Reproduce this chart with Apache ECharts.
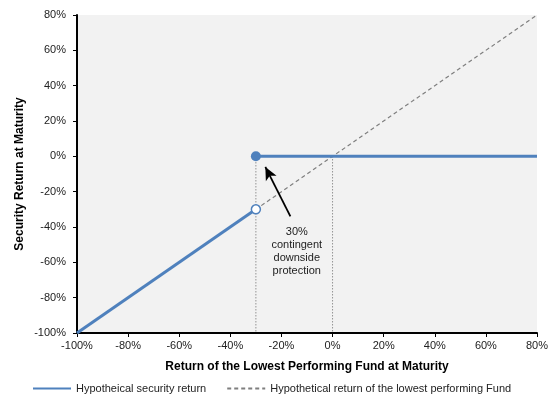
<!DOCTYPE html>
<html>
<head>
<meta charset="utf-8">
<script src="https://cdn.jsdelivr.net/npm/echarts@6/dist/echarts.min.js"></script>
<style>
  html, body { margin: 0; padding: 0; background: #fff; }
  #chart { width: 557px; height: 405px; }
</style>
</head>
<body>
<div id="chart"></div>
<script>
// axis range (in %)
var axisMin = -100;
var axisMax = 80;
var axisStep = 20;

// security return: follows the fund down to the barrier, then flat at 0
var securityBelow = [[-100, -100], [-30, -30]];
var securityAbove = [[-30, 0], [80, 0]];
// hypothetical fund return (1:1)
var fundLine = [[-100, -100], [80, 80]];
// dotted guide lines
var guideBarrier = [[-30, 0], [-30, -100]];
var guideZero = [[0, 0], [0, -100]];
// markers
var openPoint = [[-30, -30]];
var filledPoint = [[-30, 0]];
// annotation
var arrowFrom = [-16.5, -34];
var arrowTo = [-26.3, -6];
var noteAt = [-14, -54];
var noteText = '30%\ncontingent\ndownside\nprotection';

var blue = '#4f81bd';
var chart = echarts.init(document.getElementById('chart'));

var option = {
    animation: false,
    textStyle: { fontFamily: 'Liberation Sans, Arial, sans-serif' },
    grid: { left: 77, right: 20, top: 15, bottom: 72, backgroundColor: '#f2f2f2', show: true, borderWidth: 0 },
    xAxis: {
        type: 'value', min: axisMin, max: axisMax, interval: axisStep,
        name: 'Return of the Lowest Performing Fund at Maturity',
        nameLocation: 'middle', nameGap: 28,
        nameTextStyle: { fontWeight: 'bold', fontSize: 12, color: '#000' },
        axisLine: { onZero: false, lineStyle: { color: '#000', width: 2 } },
        axisTick: { show: true, length: 4, lineStyle: { color: '#000' } },
        axisLabel: { formatter: '{value}%', color: '#222', fontSize: 11, margin: 7 },
        splitLine: { show: false }
    },
    yAxis: {
        type: 'value', min: axisMin, max: axisMax, interval: axisStep,
        name: 'Security Return at Maturity',
        nameLocation: 'middle', nameGap: 51, nameMoveOverlap: false,
        nameTextStyle: { fontWeight: 'bold', fontSize: 12, color: '#000' },
        axisLine: { onZero: false, lineStyle: { color: '#000', width: 2 } },
        axisTick: { show: true, length: 4, lineStyle: { color: '#000' } },
        axisLabel: { formatter: '{value}%', color: '#222', fontSize: 11, margin: 11 },
        splitLine: { show: false }
    },
    legend: {
        left: 27, top: 378, itemWidth: 38, itemHeight: 10, itemGap: 20,
        itemStyle: { opacity: 0 },
        textStyle: { fontSize: 11, color: '#222' },
        data: ['Hypotheical security return', 'Hypothetical return of the lowest performing Fund']
    },
    series: [
        {
            name: 'Hypothetical return of the lowest performing Fund', type: 'line',
            data: fundLine, symbol: 'none', z: 1,
            lineStyle: { color: '#7f7f7f', width: 1.2, type: [4, 3] },
            itemStyle: { color: '#7f7f7f' }
        },
        {
            type: 'line', data: guideBarrier, symbol: 'none', z: 1, silent: true,
            lineStyle: { color: '#666', width: 1, type: [1, 2] }
        },
        {
            type: 'line', data: guideZero, symbol: 'none', z: 1, silent: true,
            lineStyle: { color: '#666', width: 1, type: [1, 2] },
            markLine: {
                silent: true, symbol: ['none', 'arrow'], symbolSize: [9, 13],
                label: { show: false },
                lineStyle: { color: '#000', width: 1.8, type: 'solid' },
                data: [[{ coord: arrowFrom }, { coord: arrowTo }]]
            },
            markPoint: {
                silent: true, symbol: 'circle', symbolSize: 1,
                itemStyle: { color: 'rgba(0,0,0,0)' },
                label: { show: true, formatter: noteText, color: '#222', fontSize: 11, lineHeight: 13, align: 'center' },
                data: [{ coord: noteAt }]
            }
        },
        {
            name: 'Hypotheical security return', type: 'line',
            data: securityBelow, symbol: 'none', z: 3,
            lineStyle: { color: blue, width: 3 }, itemStyle: { color: blue }
        },
        {
            name: 'Hypotheical security return', type: 'line',
            data: securityAbove, symbol: 'none', z: 3,
            lineStyle: { color: blue, width: 3 }, itemStyle: { color: blue }
        },
        {
            type: 'scatter', data: openPoint, symbol: 'circle', symbolSize: 9, z: 4,
            itemStyle: { color: '#fff', borderColor: blue, borderWidth: 1.5, opacity: 1 }
        },
        {
            type: 'scatter', data: filledPoint, symbol: 'circle', symbolSize: 10, z: 4,
            itemStyle: { color: blue, opacity: 1 }
        }
    ]
};

chart.setOption(option);
</script>
</body>
</html>
